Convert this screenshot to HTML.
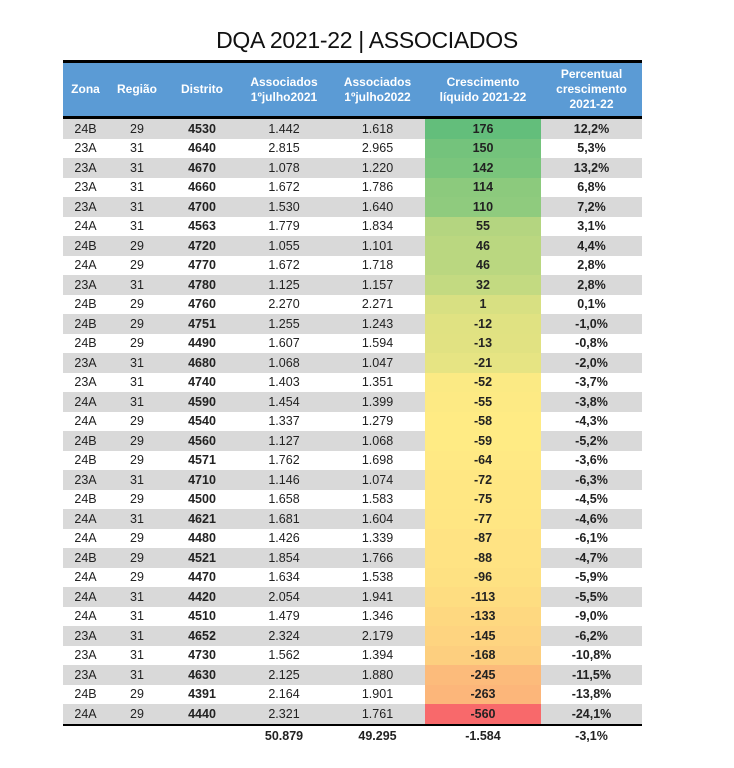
<!DOCTYPE html>
<html><head><meta charset="utf-8"><style>
body{margin:0;background:#fff;width:734px;height:768px;overflow:hidden;font-family:"Liberation Sans",sans-serif;}
h1{position:absolute;top:27px;left:0;width:734px;text-align:center;margin:0;font-weight:normal;font-size:23px;color:#111;letter-spacing:-0.3px}
table{position:absolute;left:63px;top:60px;border-collapse:collapse;width:579px;font-size:12.5px;color:#222}
th{background:#5b9bd5;color:#fff;font-weight:bold;font-size:12px;line-height:15px;height:53px;padding:0}
thead tr{border-top:3px solid #000;border-bottom:3px solid #000}
td{height:19.5px;padding:0;text-align:center}
tbody tr:nth-child(odd) td{background:#d9d9d9}
td.b{font-weight:bold}
tr.tot td{background:#fff!important;font-weight:bold;height:20px;border-top:2px solid #000}
</style></head><body>
<h1>DQA 2021-22 | ASSOCIADOS</h1>
<table>
<colgroup><col style="width:45px"><col style="width:58px"><col style="width:72px"><col style="width:92px"><col style="width:95px"><col style="width:116px"><col style="width:101px"></colgroup>
<thead><tr><th>Zona</th><th>Região</th><th>Distrito</th><th>Associados<br>1ºjulho2021</th><th>Associados<br>1ºjulho2022</th><th>Crescimento<br>líquido 2021-22</th><th>Percentual<br>crescimento<br>2021-22</th></tr></thead>
<tbody id="tb"></tbody>
</table>
<script>
var d=[["24B",29,4530,"1.442","1.618",176,"12,2%"],["23A",31,4640,"2.815","2.965",150,"5,3%"],["23A",31,4670,"1.078","1.220",142,"13,2%"],["23A",31,4660,"1.672","1.786",114,"6,8%"],["23A",31,4700,"1.530","1.640",110,"7,2%"],["24A",31,4563,"1.779","1.834",55,"3,1%"],["24B",29,4720,"1.055","1.101",46,"4,4%"],["24A",29,4770,"1.672","1.718",46,"2,8%"],["23A",31,4780,"1.125","1.157",32,"2,8%"],["24B",29,4760,"2.270","2.271",1,"0,1%"],["24B",29,4751,"1.255","1.243",-12,"-1,0%"],["24B",29,4490,"1.607","1.594",-13,"-0,8%"],["23A",31,4680,"1.068","1.047",-21,"-2,0%"],["23A",31,4740,"1.403","1.351",-52,"-3,7%"],["24A",31,4590,"1.454","1.399",-55,"-3,8%"],["24A",29,4540,"1.337","1.279",-58,"-4,3%"],["24B",29,4560,"1.127","1.068",-59,"-5,2%"],["24B",29,4571,"1.762","1.698",-64,"-3,6%"],["23A",31,4710,"1.146","1.074",-72,"-6,3%"],["24B",29,4500,"1.658","1.583",-75,"-4,5%"],["24A",31,4621,"1.681","1.604",-77,"-4,6%"],["24A",29,4480,"1.426","1.339",-87,"-6,1%"],["24B",29,4521,"1.854","1.766",-88,"-4,7%"],["24A",29,4470,"1.634","1.538",-96,"-5,9%"],["24A",31,4420,"2.054","1.941",-113,"-5,5%"],["24A",31,4510,"1.479","1.346",-133,"-9,0%"],["23A",31,4652,"2.324","2.179",-145,"-6,2%"],["23A",31,4730,"1.562","1.394",-168,"-10,8%"],["23A",31,4630,"2.125","1.880",-245,"-11,5%"],["24B",29,4391,"2.164","1.901",-263,"-13,8%"],["24A",29,4440,"2.321","1.761",-560,"-24,1%"]];
var G=[99,190,123],Y=[255,235,132],R=[248,105,107],mid=-58,mx=176,mn=-560;
function mix(a,b,t){return 'rgb('+a.map(function(v,i){return Math.round(v+(b[i]-v)*t)}).join(',')+')'}
var h='';
d.forEach(function(r){var v=r[5],c=v>=mid?mix(Y,G,(v-mid)/(mx-mid)):mix(Y,R,(mid-v)/(mid-mn));
h+='<tr><td>'+r[0]+'</td><td>'+r[1]+'</td><td class="b">'+r[2]+'</td><td>'+r[3]+'</td><td>'+r[4]+'</td><td class="b" style="background:'+c+'!important">'+v+'</td><td class="b">'+r[6]+'</td></tr>';});
h+='<tr class="tot"><td></td><td></td><td></td><td>50.879</td><td>49.295</td><td>-1.584</td><td>-3,1%</td></tr>';
document.getElementById('tb').innerHTML=h;
</script>
</body></html>
